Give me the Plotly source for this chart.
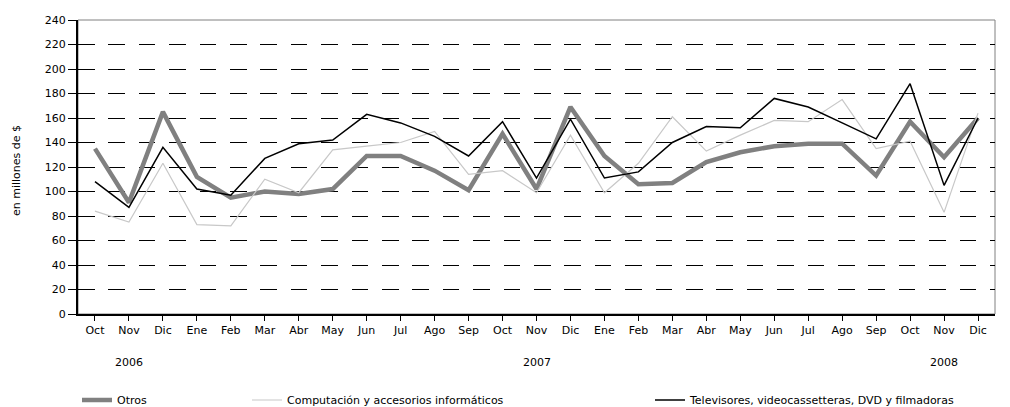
import plotly.graph_objects as go

months = ["Oct", "Nov", "Dic", "Ene", "Feb", "Mar", "Abr", "May", "Jun", "Jul", "Ago", "Sep",
          "Oct", "Nov", "Dic", "Ene", "Feb", "Mar", "Abr", "May", "Jun", "Jul", "Ago", "Sep",
          "Oct", "Nov", "Dic"]
years = ["2006", "2007", "2008"]
year_pos = [1, 13, 25]  # index of month under which each year label sits

otros = [135, 91, 165, 112, 95, 100, 98, 102, 129, 129, 117, 101, 147, 102, 169, 129, 106, 107,
         124, 132, 137, 139, 139, 113, 157, 128, 160]
computacion = [84, 75, 123, 73, 72, 110, 99, 134, 137, 140, 149, 114, 117, 99, 146, 99, 123, 161,
               133, 146, 158, 157, 175, 135, 141, 83, 164]
televisores = [108, 87, 136, 102, 97, 127, 139, 142, 163, 156, 145, 129, 157, 111, 159, 111, 116, 140,
               153, 152, 176, 169, 156, 143, 188, 105, 160]

names = ["Otros", "Computación y accesorios informáticos",
         "Televisores, videocassetteras, DVD y filmadoras"]

x = list(range(len(months)))
FONT = "DejaVu Sans"
OFF = 8                      # default page body margin
W, H = 1010 - OFF, 407 - OFF
L, R, T, B = 78 - OFF, 15, 20 - OFF, 93
PW, PH = W - L - R, H - T - B
PLOT_LEFT, PLOT_BOTTOM = 78, 314   # page pixels


def px_x(page_x):
    return (page_x - PLOT_LEFT) / PW


def px_y(page_y):
    return (PLOT_BOTTOM - page_y) / PH


fig = go.Figure()
fig.add_trace(go.Scatter(x=x, y=otros, mode="lines", name=names[0],
                         line=dict(color="#808080", width=4.5), legend="legend"))
fig.add_trace(go.Scatter(x=x, y=computacion, mode="lines", name=names[1],
                         line=dict(color="#c8c8c8", width=1.2), legend="legend2"))
fig.add_trace(go.Scatter(x=x, y=televisores, mode="lines", name=names[2],
                         line=dict(color="#000000", width=1.5), legend="legend3"))

for yr, p in zip(years, year_pos):
    fig.add_annotation(x=p, y=px_y(362), xref="x", yref="paper", text=yr, showarrow=False,
                       xanchor="center", yanchor="middle",
                       font=dict(family=FONT, size=11, color="#000"))

# y-axis title as annotation
fig.add_annotation(x=px_x(16), y=px_y(171), xref="paper", yref="paper", text="en millones de $",
                   showarrow=False, textangle=-90, xanchor="center", yanchor="middle",
                   font=dict(family=FONT, size=11, color="#000000"))

# plot border (gray top/right)
fig.add_shape(type="rect", xref="x domain", yref="y domain", x0=0, x1=1, y0=0, y1=1,
              line=dict(color="#808080", width=1), layer="below")

legend_common = dict(orientation="h", yanchor="middle", y=(H - (400 - OFF)) / H, yref="container",
                     xanchor="left", xref="container",
                     bgcolor="rgba(0,0,0,0)", font=dict(family=FONT, size=11, color="#000"),
                     itemwidth=30)

fig.update_layout(
    width=W, height=H,
    margin=dict(l=L, r=R, t=T, b=B, autoexpand=False),
    paper_bgcolor="white", plot_bgcolor="white",
    font=dict(family=FONT, size=11, color="#000"),
    showlegend=True,
    legend=dict(**legend_common, x=69 / W),
    legend2=dict(**legend_common, x=239 / W),
    legend3=dict(**legend_common, x=642 / W),
    xaxis=dict(
        tickmode="array", tickvals=x, ticktext=months,
        range=[-0.5, len(months) - 0.5],
        showgrid=False, showline=True, linecolor="#000", linewidth=2,
        ticks="outside", ticklen=5, tickcolor="#000", tickson="boundaries",
        tickfont=dict(family=FONT, size=11, color="#000"),
        zeroline=False, automargin=False,
    ),
    yaxis=dict(
        range=[0, 240], tickmode="linear", tick0=0, dtick=20,
        showgrid=True, gridcolor="#000", gridwidth=1, griddash="16.5px,13.9px",
        showline=True, linecolor="#000", linewidth=2,
        ticks="outside", ticklen=8, tickcolor="#000",
        tickfont=dict(family=FONT, size=11, color="#000"),
        zeroline=False, automargin=False,
    ),
)

fig.write_html("out.html")
